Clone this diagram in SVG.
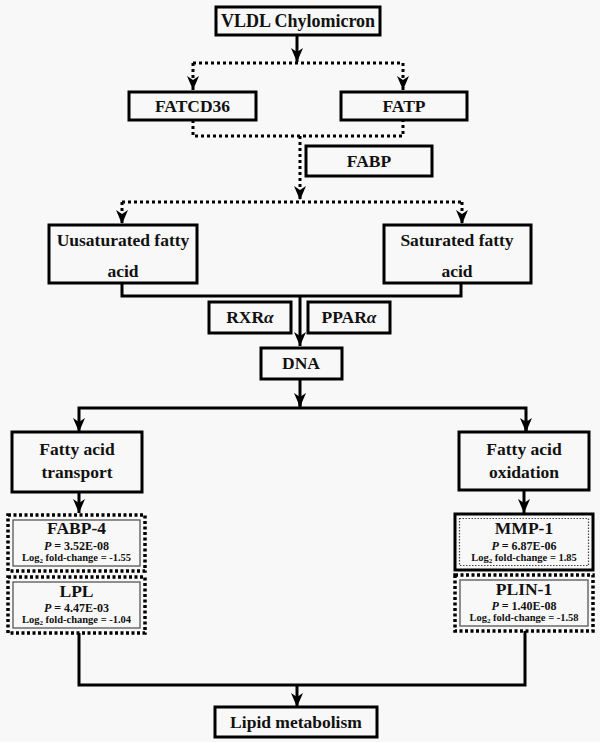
<svg xmlns="http://www.w3.org/2000/svg" width="600" height="742" viewBox="0 0 600 742">
<defs>
<marker id="arr" markerUnits="userSpaceOnUse" markerWidth="14" markerHeight="12" viewBox="0 0 14 12" refX="14" refY="6" orient="auto">
<path d="M0,0 L14,6 L0,12 L4,6 Z" fill="#000"/>
</marker>
<style>
.box{fill:none;stroke:#000;stroke-width:3}
.dbox{fill:none;stroke:#000;stroke-width:3.5;stroke-dasharray:3 2.5}
.inner{fill:none;stroke:#555;stroke-width:1.3}
.idot{fill:none;stroke:#444;stroke-width:1.2;stroke-dasharray:1.5 1.5}
.ln{fill:none;stroke:#000;stroke-width:3}
.dl{fill:none;stroke:#000;stroke-width:3;stroke-dasharray:3 3}
text{font-family:"Liberation Serif","Times New Roman",serif;font-weight:bold;fill:#111;text-anchor:middle}
.t{font-size:17.5px}
.g{font-size:18px}
.p{font-size:12px}
.l{font-size:10.5px}
</style>
</defs>
<rect width="600" height="742" fill="#f8f8f8"/>
<g id="connectors">
<path class="ln" d="M297,35 V62" marker-end="url(#arr)"/>
<path class="dl" d="M193,63 H403"/>
<path class="dl" d="M193,63 V90" marker-end="url(#arr)"/>
<path class="dl" d="M403,63 V90" marker-end="url(#arr)"/>
<path class="dl" d="M193,120 V136 H403 V120"/>
<path class="dl" d="M300,136 V200" marker-end="url(#arr)"/>
<path class="dl" d="M122,202 H462"/>
<path class="dl" d="M122,202 V224" marker-end="url(#arr)"/>
<path class="dl" d="M462,202 V224" marker-end="url(#arr)"/>
<path class="ln" d="M122,283 V296 H461 V283"/>
<path class="ln" d="M300,296 V346" marker-end="url(#arr)"/>
<path class="ln" d="M300,379 V406"/>
<path class="ln" d="M79,431 V408 H526 V431"/>
<path class="ln" d="M300,396 V407" marker-end="url(#arr)"/>
<path class="ln" d="M79,431 V432" marker-end="url(#arr)"/>
<path class="ln" d="M526,420 V432" marker-end="url(#arr)"/>
<path class="ln" d="M79,492 V513" marker-end="url(#arr)"/>
<path class="ln" d="M524,490 V513" marker-end="url(#arr)"/>
<path class="ln" d="M79,633 V685 H525 V631"/>
<path class="ln" d="M297,685 V707" marker-end="url(#arr)"/>
</g>
<g id="vldl"><rect class="box" x="216" y="7" width="164" height="28"/><text class="g" x="298" y="27">VLDL Chylomicron</text></g>
<g id="fatcd36"><rect class="box" x="129" y="92" width="127" height="28"/><text class="t" x="192.5" y="112">FATCD36</text></g>
<g id="fatp"><rect class="box" x="341" y="92" width="126" height="28"/><text class="t" x="404" y="112">FATP</text></g>
<g id="fabp"><rect class="box" x="306" y="146" width="126" height="30"/><text class="t" x="369" y="167">FABP</text></g>
<g id="unsat"><rect class="box" x="49" y="225" width="148" height="58"/><text class="t" x="123" y="246">Uusaturated fatty</text><text class="t" x="123" y="277">acid</text></g>
<g id="sat"><rect class="box" x="384" y="225" width="147" height="58"/><text class="t" x="457" y="246">Saturated fatty</text><text class="t" x="457" y="277">acid</text></g>
<g id="rxr"><rect class="box" x="209" y="302" width="82" height="31"/><text class="t" x="250" y="323">RXR<tspan font-style="italic">α</tspan></text></g>
<g id="ppar"><rect class="box" x="308" y="302" width="82" height="31"/><text class="t" x="349" y="323">PPAR<tspan font-style="italic">α</tspan></text></g>
<g id="dna"><rect class="box" x="261" y="348" width="81" height="31"/><text class="t" x="301" y="369">DNA</text></g>
<g id="transport"><rect class="box" x="12" y="432" width="130" height="60"/><text class="t" x="77" y="455">Fatty acid</text><text class="t" x="77" y="478">transport</text></g>
<g id="oxidation"><rect class="box" x="459" y="432" width="130" height="58"/><text class="t" x="524" y="455">Fatty acid</text><text class="t" x="524" y="478">oxidation</text></g>
<g id="fabp4"><rect class="dbox" x="8" y="515" width="137" height="56"/><rect class="inner" x="13" y="520" width="127" height="46"/><text class="t" x="76.5" y="534">FABP-4</text><text class="p" x="76.5" y="550"><tspan font-style="italic">P</tspan> = 3.52E-08</text><text class="l" x="76.5" y="561">Log<tspan font-size="7" dy="2">2</tspan><tspan dy="-2"> fold-change = -1.55</tspan></text></g>
<g id="lpl"><rect class="dbox" x="8" y="577" width="137" height="56"/><rect class="inner" x="13" y="582" width="127" height="46"/><text class="t" x="76.5" y="597">LPL</text><text class="p" x="76.5" y="612"><tspan font-style="italic">P</tspan> = 4.47E-03</text><text class="l" x="76.5" y="623">Log<tspan font-size="7" dy="2">2</tspan><tspan dy="-2"> fold-change = -1.04</tspan></text></g>
<g id="mmp1"><rect class="box" x="455" y="514" width="138" height="56"/><rect class="idot" x="459.5" y="518.5" width="129" height="47"/><text class="t" x="524" y="534">MMP-1</text><text class="p" x="524" y="550"><tspan font-style="italic">P</tspan> = 6.87E-06</text><text class="l" x="524" y="561">Log<tspan font-size="7" dy="2">2</tspan><tspan dy="-2"> fold-change = 1.85</tspan></text></g>
<g id="plin1"><rect class="dbox" x="455" y="575" width="138" height="56"/><rect class="inner" x="460" y="580" width="128" height="46"/><text class="t" x="524" y="595">PLIN-1</text><text class="p" x="524" y="610"><tspan font-style="italic">P</tspan> = 1.40E-08</text><text class="l" x="524" y="621">Log<tspan font-size="7" dy="2">2</tspan><tspan dy="-2"> fold-change = -1.58</tspan></text></g>
<g id="lipid"><rect class="box" x="215" y="707" width="162" height="30"/><text class="t" x="296" y="728">Lipid metabolism</text></g>
</svg>
